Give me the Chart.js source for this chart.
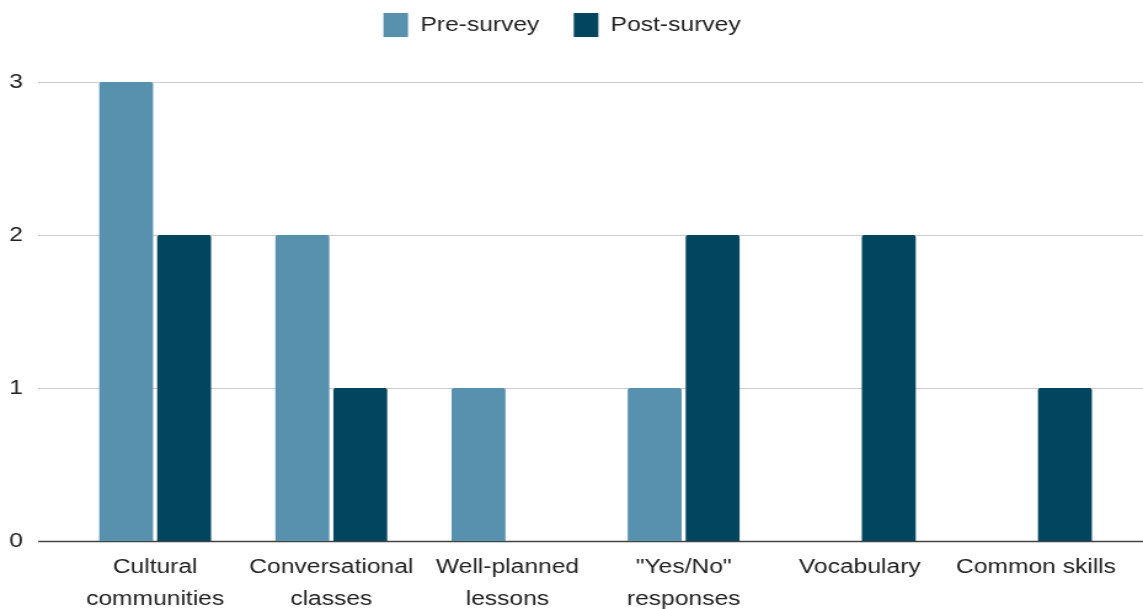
<!DOCTYPE html>
<html>
<head>
<meta charset="utf-8">
<script src="https://cdn.jsdelivr.net/npm/chart.js@4/dist/chart.umd.min.js"></script>
<style>
  html, body { margin:0; padding:0; background:#fff; overflow:hidden; }
  #wrap { width:1143px; height:609px; }
  /* the original chart is stretched sideways, text included */
  #myChart { transform: scale(1.23035, 1); transform-origin: 0 0; }
</style>
</head>
<body>
<div id="wrap"><canvas id="myChart" width="929" height="609"></canvas></div>
<script>
// data
var categories = [
    ["Cultural", "communities"],
    ["Conversational", "classes"],
    ["Well-planned", "lessons"],
    ["\"Yes/No\"", "responses"],
    "Vocabulary",
    "Common skills"
]
var pre_survey = [3, 2, 1, 1, 0, 0]
var post_survey = [2, 1, 0, 2, 2, 1]
var y_ticks = [0, 1, 2, 3]

var pre_color = "#5891ae"
var post_color = "#02455f"

// gridlines run wider than the bar area, so draw them by hand from the y scale
var wideGrid = {
    id: 'wideGrid',
    beforeDatasetsDraw: function(chart){
        var ctx = chart.ctx
        var y = chart.scales.y
        ctx.save()
        y.ticks.forEach(function(t){
            var py = Math.round(y.getPixelForValue(t.value)) + 0.5
            ctx.beginPath()
            ctx.lineWidth = t.value === 0 ? 1.5 : 1
            ctx.strokeStyle = t.value === 0 ? "#444" : "#cccccc"
            ctx.moveTo(31, py)
            ctx.lineTo(chart.width, py)
            ctx.stroke()
        })
        ctx.restore()
    }
}

// wide legend spacing but boxes near the top
var legendGap = {
    id: 'legendGap',
    beforeInit: function(chart){
        var fit = chart.legend.fit
        chart.legend.fit = function(){
            fit.bind(chart.legend)()
            this.height += 20
        }
    },
    afterLayout: function(chart){
        chart.legend.top -= 15
    }
}

Chart.defaults.font.family = "'Liberation Sans', Arial, sans-serif"
Chart.defaults.color = "#222"

var ctx = document.getElementById('myChart').getContext("2d")
var chart = new Chart(ctx, {
    type: 'bar',
    plugins: [wideGrid, legendGap],
    data: {
        labels: categories,
        datasets: [{
            label: 'Pre-survey',
            data: pre_survey,
            backgroundColor: pre_color,
            borderRadius: 2,
            borderSkipped: 'bottom',
            categoryPercentage: 0.658,
            barPercentage: 0.93
        }, {
            label: 'Post-survey',
            data: post_survey,
            backgroundColor: post_color,
            borderRadius: 2,
            borderSkipped: 'bottom',
            categoryPercentage: 0.658,
            barPercentage: 0.93
        }]
    },
    options: {
        responsive: false,
        animation: false,
        layout: {
            padding: { left: 0, right: 15.4, top: 0, bottom: -16 }
        },
        scales: {
            x: {
                grid: { display: false, drawTicks: false },
                border: { display: false },
                ticks: {
                    padding: 10,
                    maxRotation: 0,
                    autoSkip: false,
                    font: { size: 20, lineHeight: 1.6 },
                    color: "#222"
                }
            },
            y: {
                min: 0,
                max: 3,
                afterFit: function(scale){ scale.width = 54.5 },
                afterBuildTicks: function(scale){
                    scale.ticks = y_ticks.map(function(v){ return { value: v } })
                },
                grid: { display: false, drawTicks: false },
                border: { display: false },
                ticks: {
                    padding: 36,
                    font: { size: 20 },
                    color: "#222"
                }
            }
        },
        plugins: {
            legend: {
                display: true,
                position: 'top',
                labels: {
                    boxWidth: 20,
                    boxHeight: 24,
                    padding: 28,
                    color: "#222",
                    font: { size: 20 }
                }
            },
            tooltip: { enabled: false }
        }
    }
})
</script>
</body>
</html>
